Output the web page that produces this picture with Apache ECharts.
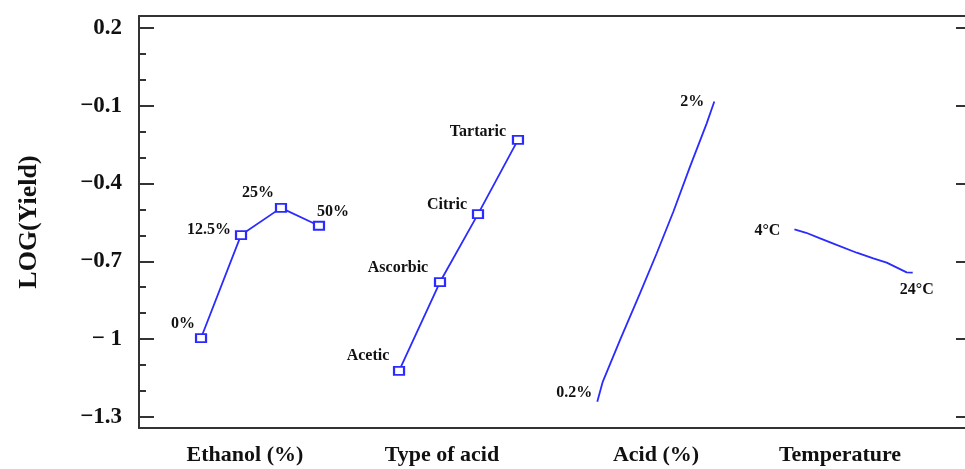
<!DOCTYPE html>
<html>
<head>
<meta charset="utf-8">
<script src="https://cdn.jsdelivr.net/npm/echarts@6/dist/echarts.min.js"></script>
<style>
html,body{margin:0;padding:0;background:#fff;}
#chart{width:965px;height:469px;}
</style>
</head>
<body>
<div id="chart"></div>
<script>
// ---- data ----
var factorNames = ['Ethanol (%)', 'Type of acid', 'Acid (%)', 'Temperature'];
var factorCenters = [12.83, 36.68, 62.59, 84.87];

var yTickValues = [0.2, -0.1, -0.4, -0.7, -1, -1.3];
var yTickLabels = ['0.2', '\u22120.1', '\u22120.4', '\u22120.7', '\u2212 1', '\u22121.3'];
var yMinorValues = [0.2, 0.1, 0, -0.1, -0.2, -0.3, -0.4, -0.5, -0.6, -0.7, -0.8, -0.9, -1, -1.1, -1.2, -1.3];

var ethanolLevels = ['0%', '12.5%', '25%', '50%'];
var ethanolX = [7.51, 12.35, 17.19, 21.79];
var ethanolY = [-0.996, -0.599, -0.494, -0.563];

var acidTypeLevels = ['Acetic', 'Ascorbic', 'Citric', 'Tartaric'];
var acidTypeX = [31.48, 36.44, 41.04, 45.88];
var acidTypeY = [-1.123, -0.780, -0.518, -0.232];

var acidPctEnds = ['0.2%', '2%'];
var acidPctX = [55.48, 56.14, 58.23, 60.65, 62.68, 64.69, 66.71, 68.73, 69.65];
var acidPctY = [-1.242, -1.165, -1.004, -0.824, -0.669, -0.509, -0.335, -0.168, -0.084];

var tempEnds = ['4\u00B0C', '24\u00B0C'];
var tempX = [79.35, 80.77, 82.38, 83.99, 86.89, 88.90, 90.52, 92.94, 93.67];
var tempY = [-0.577, -0.590, -0.611, -0.631, -0.667, -0.689, -0.705, -0.743, -0.744];

// ---- label placement (style) ----
var ethanolOffsets = [[-18, -14], [-32, -5], [-23, -15], [14, -14]];
var acidTypeOffsets = [[-31, -15], [-42, -14], [-31, -9], [-40, -8]];
var acidPctOffsets = [[-23, -9], [-22, 0]];
var tempOffsets = [[-27, 1], [4, 17]];

var FONT = '"Liberation Serif", "Times New Roman", serif';
var BLUE = '#2b2bff';
var FRAME = '#333333';

function nearestIndex(arr, v) {
  var best = 0, bd = Infinity;
  for (var i = 0; i < arr.length; i++) {
    var d = Math.abs(arr[i] - v);
    if (d < bd) { bd = d; best = i; }
  }
  return best;
}

function pointLabel(text, off) {
  return {
    show: true, formatter: text, position: 'inside', offset: off,
    color: '#111', fontFamily: FONT, fontSize: 16, fontWeight: 'bold'
  };
}

function buildMarked(xs, ys, names, offsets) {
  return xs.map(function (x, i) {
    return { value: [x, ys[i]], label: pointLabel(names[i], offsets[i]) };
  });
}

function buildLine(xs, ys, ends, offsets) {
  return xs.map(function (x, i) {
    var d = { value: [x, ys[i]] };
    if (i === 0) d.label = pointLabel(ends[0], offsets[0]);
    if (i === xs.length - 1) d.label = pointLabel(ends[1], offsets[1]);
    return d;
  });
}

var chart = echarts.init(document.getElementById('chart'), null, { renderer: 'canvas' });

var yMin = -1.343, yMax = 0.246;

var option = {
  animation: false,
  backgroundColor: '#fff',
  grid: { left: 139, top: 16, width: 826, height: 412, containLabel: false },
  xAxis: [
    {
      type: 'value', min: 0, max: 100, position: 'bottom',
      axisLine: { show: true, onZero: false, lineStyle: { color: FRAME, width: 2 } },
      axisTick: { show: false, customValues: factorCenters },
      splitLine: { show: false },
      axisLabel: {
        show: true, customValues: factorCenters, margin: 16,
        formatter: function (v) { return factorNames[nearestIndex(factorCenters, v)]; },
        color: '#111', fontFamily: FONT, fontSize: 22, fontWeight: 'bold'
      }
    },
    {
      type: 'value', min: 0, max: 100, position: 'top',
      axisLine: { show: true, onZero: false, lineStyle: { color: FRAME, width: 2 } },
      axisTick: { show: false }, axisLabel: { show: false }, splitLine: { show: false }
    }
  ],
  yAxis: [
    {
      type: 'value', min: yMin, max: yMax, position: 'left',
      name: 'LOG(Yield)', nameLocation: 'middle', nameGap: 97, nameRotate: 90,
      nameTextStyle: { color: '#111', fontFamily: FONT, fontSize: 26, fontWeight: 'bold' },
      axisLine: { show: true, onZero: false, lineStyle: { color: FRAME, width: 2 } },
      axisTick: { show: true, inside: true, length: 15, customValues: yTickValues, lineStyle: { color: FRAME, width: 2 } },
      axisLabel: {
        show: true, customValues: yTickValues, margin: 17, showMinLabel: true, showMaxLabel: true,
        formatter: function (v) { return yTickLabels[nearestIndex(yTickValues, v)]; },
        color: '#111', fontFamily: FONT, fontSize: 23, fontWeight: 'bold'
      },
      splitLine: { show: false }
    },
    {
      type: 'value', min: yMin, max: yMax, position: 'left',
      axisLine: { show: false, onZero: false },
      axisTick: { show: true, inside: true, length: 7, customValues: yMinorValues, lineStyle: { color: FRAME, width: 2 } },
      axisLabel: { show: false }, splitLine: { show: false }
    },
    {
      type: 'value', min: yMin, max: yMax, position: 'right',
      axisLine: { show: false, onZero: false },
      axisTick: { show: true, inside: true, length: 9, customValues: yTickValues, lineStyle: { color: FRAME, width: 2 } },
      axisLabel: { show: false }, splitLine: { show: false }
    }
  ],
  series: [
    {
      type: 'line', xAxisIndex: 0, yAxisIndex: 0,
      data: buildMarked(ethanolX, ethanolY, ethanolLevels, ethanolOffsets),
      symbol: 'emptyRect', symbolSize: [10, 8], showSymbol: true,
      lineStyle: { color: BLUE, width: 1.8 },
      itemStyle: { color: BLUE, borderColor: BLUE, borderWidth: 2 },
      z: 3
    },
    {
      type: 'line', xAxisIndex: 0, yAxisIndex: 0,
      data: buildMarked(acidTypeX, acidTypeY, acidTypeLevels, acidTypeOffsets),
      symbol: 'emptyRect', symbolSize: [10, 8], showSymbol: true,
      lineStyle: { color: BLUE, width: 1.8 },
      itemStyle: { color: BLUE, borderColor: BLUE, borderWidth: 2 },
      z: 3
    },
    {
      type: 'line', xAxisIndex: 0, yAxisIndex: 0,
      data: buildLine(acidPctX, acidPctY, acidPctEnds, acidPctOffsets),
      symbol: 'circle', symbolSize: 0.1, showSymbol: true,
      lineStyle: { color: BLUE, width: 1.8 },
      itemStyle: { color: BLUE },
      z: 3
    },
    {
      type: 'line', xAxisIndex: 0, yAxisIndex: 0,
      data: buildLine(tempX, tempY, tempEnds, tempOffsets),
      symbol: 'circle', symbolSize: 0.1, showSymbol: true,
      lineStyle: { color: BLUE, width: 1.8 },
      itemStyle: { color: BLUE },
      z: 3
    }
  ]
};

chart.setOption(option);
</script>
</body>
</html>
